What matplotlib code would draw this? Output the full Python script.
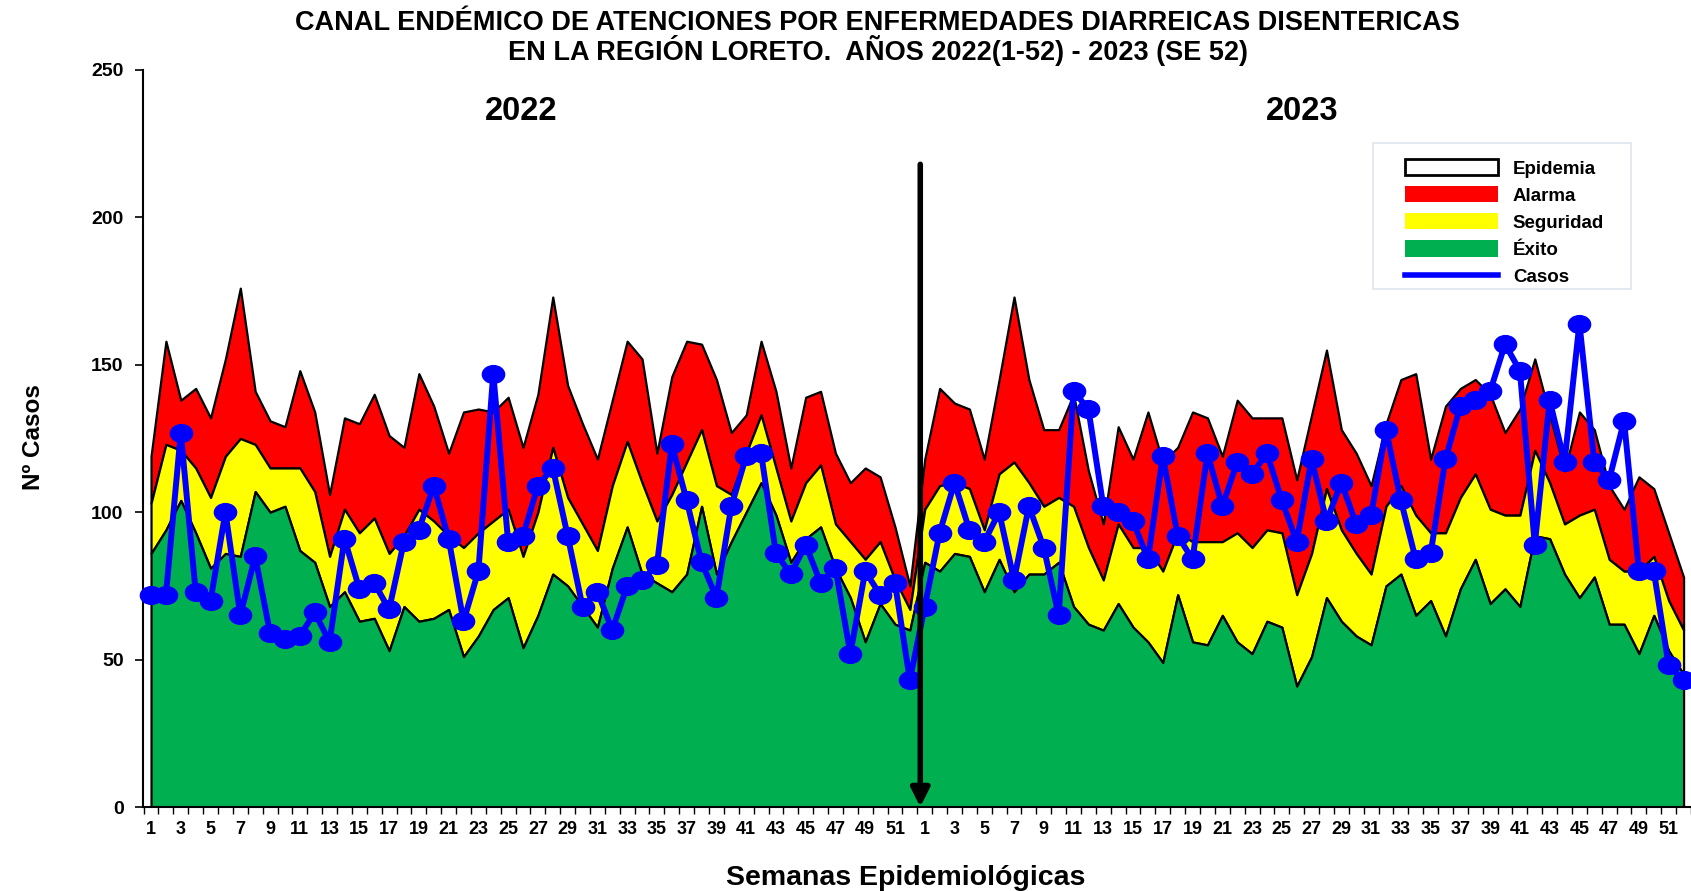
import numpy as np
import matplotlib
matplotlib.use('Agg')
import matplotlib.pyplot as plt
from matplotlib.path import Path
from matplotlib.patches import Patch, Rectangle
from matplotlib.lines import Line2D

plt.rcParams['font.family'] = ['Liberation Sans', 'DejaVu Sans']
plt.rcParams['font.weight'] = 'bold'

semanas = list(range(1, 53))

# limites superiores de cada zona del canal endemico (2022)
alarma_2022 = [119, 158, 138, 142, 132, 152, 176, 141, 131, 129, 148, 134, 106, 132, 130, 140,
               126, 122, 147, 136, 120, 134, 135, 134, 139, 122, 140, 173, 143, 130, 118, 138,
               158, 152, 120, 146, 158, 157, 145, 127, 133, 158, 141, 115, 139, 141, 120, 110,
               115, 112, 95, 75]
seguridad_2022 = [103, 123, 121, 115, 105, 119, 125, 123, 115, 115, 115, 107, 85, 101, 93, 98,
                  86, 92, 101, 97, 92, 88, 93, 97, 101, 85, 100, 122, 105, 96, 87, 109,
                  124, 110, 97, 106, 117, 128, 109, 106, 120, 133, 115, 97, 110, 116, 96, 90,
                  84, 90, 77, 67]
exito_2022 = [86, 94, 104, 93, 81, 86, 85, 107, 100, 102, 87, 83, 68, 73, 63, 64,
              53, 68, 63, 64, 67, 51, 58, 67, 71, 54, 65, 79, 75, 68, 61, 81,
              95, 79, 76, 73, 79, 102, 79, 90, 100, 110, 99, 83, 91, 95, 81, 71,
              56, 69, 62, 60]
casos_2022 = [72, 72, 127, 73, 70, 100, 65, 85, 59, 57, 58, 66, 56, 91, 74, 76,
              67, 90, 94, 109, 91, 63, 80, 147, 90, 92, 109, 115, 92, 68, 73, 60,
              75, 77, 82, 123, 104, 83, 71, 102, 119, 120, 86, 79, 89, 76, 81, 52,
              80, 72, 76, 43]

# limites superiores de cada zona del canal endemico (2023)
alarma_2023 = [118, 142, 137, 135, 118, 145, 173, 145, 128, 128, 140, 114, 96, 129, 118, 134,
               117, 122, 134, 132, 119, 138, 132, 132, 132, 111, 133, 155, 128, 120, 109, 130,
               145, 147, 118, 136, 142, 145, 140, 127, 135, 152, 133, 114, 134, 128, 109, 101,
               112, 108, 93, 78]
seguridad_2023 = [101, 109, 110, 108, 94, 113, 117, 110, 102, 105, 102, 88, 77, 96, 88, 88,
                  80, 93, 90, 90, 90, 93, 88, 94, 93, 72, 86, 108, 94, 86, 79, 102,
                  109, 99, 93, 93, 105, 113, 101, 99, 99, 121, 110, 96, 99, 101, 84, 80,
                  80, 85, 70, 60]
exito_2023 = [83, 80, 86, 85, 73, 84, 73, 79, 79, 83, 68, 62, 60, 69, 61, 56,
              49, 72, 56, 55, 65, 56, 52, 63, 61, 41, 51, 71, 63, 58, 55, 75,
              79, 65, 70, 58, 74, 84, 69, 74, 68, 92, 91, 79, 71, 78, 62, 62,
              52, 65, 53, 45]
casos_2023 = [68, 93, 110, 94, 90, 100, 77, 102, 88, 65, 141, 135, 102, 100, 97, 84,
              119, 92, 84, 120, 102, 117, 113, 120, 104, 90, 118, 97, 110, 96, 99, 128,
              104, 84, 86, 118, 136, 138, 141, 157, 148, 89, 138, 117, 164, 117, 111, 131,
              80, 80, 48, 43]

alarma = np.array(alarma_2022 + alarma_2023)
seguridad = np.array(seguridad_2022 + seguridad_2023)
exito = np.array(exito_2022 + exito_2023)
casos = np.array(casos_2022 + casos_2023)
etiquetas_sem = [str(s) for s in semanas + semanas]
x = np.arange(len(casos))

ROJO = '#ff0000'
AMARILLO = '#ffff00'
VERDE = '#00b050'
AZUL = '#0000ff'

fig = plt.figure(figsize=(16.91, 8.91), dpi=100)
ax = fig.add_axes([143 / 1691, 84 / 891, 1 - 143 / 1691, 737 / 891])

ax.fill_between(x, seguridad, alarma, facecolor=ROJO, edgecolor='black', lw=1.6, zorder=1)
ax.fill_between(x, exito, seguridad, facecolor=AMARILLO, edgecolor='black', lw=1.6, zorder=2)
ax.fill_between(x, 0, exito, facecolor=VERDE, edgecolor='black', lw=1.6, zorder=3)

# marcador eliptico para los casos
circ = Path.unit_circle()
elipse = Path(circ.vertices * [1.0, 0.8], circ.codes)
ax.plot(x, casos, color=AZUL, lw=4.3, marker=elipse, ms=16, zorder=5, clip_on=False)

# flecha que separa los dos años
ax.annotate('', xy=(51.7, 0), xytext=(51.7, 218),
            arrowprops=dict(arrowstyle='-|>,head_length=0.5,head_width=0.25', lw=4,
                            color='black', shrinkA=0, shrinkB=0, mutation_scale=22),
            zorder=6)

ax.set_xlim(-0.54, 103.15)
ax.set_ylim(0, 250)
ax.set_yticks(range(0, 251, 50))
ax.set_xticks(x[::2])
ax.set_xticklabels(etiquetas_sem[::2])
ax.set_xticks(np.arange(-0.5, len(x), 1), minor=True)
ax.tick_params(axis='x', which='major', length=0, pad=10, labelsize=13)
ax.tick_params(axis='x', which='minor', length=5, width=1)
ax.tick_params(axis='y', length=6, width=1.2, pad=8, labelsize=14)
for s in ['top', 'right']:
    ax.spines[s].set_visible(False)
ax.spines['left'].set_linewidth(1.5)
ax.spines['bottom'].set_linewidth(1.5)
ax.spines['bottom'].set_zorder(4)

fig.text(877 / 1691, 1 - 23 / 891, 'CANAL ENDÉMICO DE ATENCIONES POR ENFERMEDADES DIARREICAS DISENTERICAS',
         ha='center', va='center', fontsize=19.5)
fig.text(878 / 1691, 1 - 50 / 891, 'EN LA REGIÓN LORETO.  AÑOS 2022(1-52) - 2023 (SE 52)',
         ha='center', va='center', fontsize=19.5)
fig.text(521 / 1691, 1 - 111 / 891, '2022', ha='center', va='center', fontsize=23.5)
fig.text(1302 / 1691, 1 - 111 / 891, '2023', ha='center', va='center', fontsize=23.5)
fig.text(33 / 1691, 1 - 437 / 891, 'Nº Casos', rotation=90, ha='center', va='center', fontsize=17.5)
fig.text(906 / 1691, 1 - 878 / 891, 'Semanas Epidemiológicas', ha='center', va='center', fontsize=20.5)

# leyenda
ax.add_patch(Rectangle((1373 / 1691, 1 - 289 / 891), 258 / 1691, 146 / 891,
                       transform=fig.transFigure, facecolor='white', edgecolor='#dfe4ee',
                       lw=1.2, zorder=7, clip_on=False))
handles = [Patch(facecolor='white', edgecolor='black', lw=2),
           Patch(facecolor=ROJO, edgecolor='none'),
           Patch(facecolor=AMARILLO, edgecolor='none'),
           Patch(facecolor=VERDE, edgecolor='none'),
           Line2D([], [], color=AZUL, lw=4)]
leg = fig.legend(handles, ['Epidemia', 'Alarma', 'Seguridad', 'Éxito', 'Casos'],
                 loc='upper left', bbox_to_anchor=(1405 / 1691, 1 - 159 / 891),
                 frameon=False, fontsize=13.5, handlelength=4.95, handleheight=0.95,
                 labelspacing=0.46, handletextpad=0.8, borderpad=0, borderaxespad=0)
leg.set_zorder(8)

fig.savefig('out.png', dpi=100)
